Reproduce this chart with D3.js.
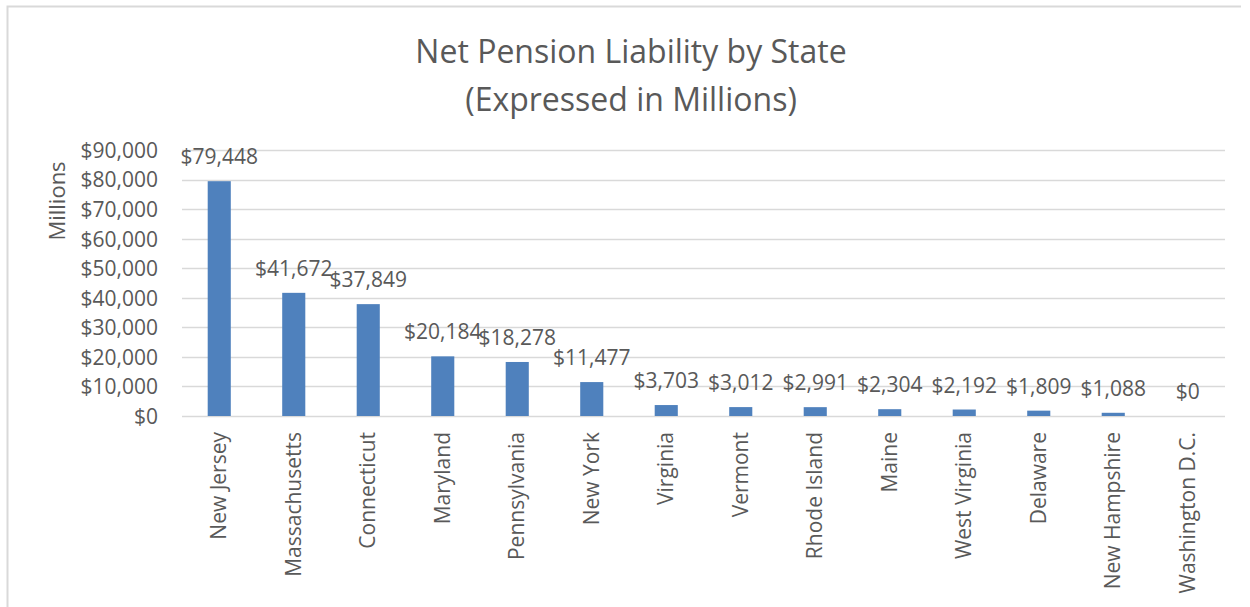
<!DOCTYPE html>
<html>
<head>
<meta charset="utf-8">
<script src="https://cdn.jsdelivr.net/npm/d3@7"></script>
<style>
  html, body { margin: 0; padding: 0; background: #fff; }
  svg { display: block; }
  text { font-family: "Open Sans", "Noto Sans", sans-serif; fill: #595959; }
</style>
</head>
<body>
<svg id="chart" width="1250" height="607"></svg>
<script>
const states = ["New Jersey", "Massachusetts", "Connecticut", "Maryland", "Pennsylvania", "New York",
  "Virginia", "Vermont", "Rhode Island", "Maine", "West Virginia", "Delaware", "New Hampshire", "Washington D.C."];
const liability = [79448, 41672, 37849, 20184, 18278, 11477, 3703, 3012, 2991, 2304, 2192, 1809, 1088, 0];
const yTicks = [0, 10000, 20000, 30000, 40000, 50000, 60000, 70000, 80000, 90000];
const titleLines = ["Net Pension Liability by State", "(Expressed in Millions)"];
const yAxisTitle = "Millions";

const svg = d3.select("#chart");

// chart border
svg.append("path")
  .attr("d", "M7.5,607 L7.5,6.5 L1241,6.5")
  .attr("fill", "none").attr("stroke", "#d9d9d9").attr("stroke-width", 2);

const plot = { left: 182, right: 1225, top: 150, bottom: 416 };

const x = d3.scaleBand().domain(states).range([plot.left, plot.right]).padding(0);
const y = d3.scaleLinear().domain([0, 90000]).range([plot.bottom, plot.top]);
const fmt = v => "$" + d3.format(",")(v);

// gridlines
svg.append("g").selectAll("line").data(yTicks).join("line")
  .attr("x1", plot.left).attr("x2", plot.right)
  .attr("y1", d => Math.round(y(d)) + 0.5).attr("y2", d => Math.round(y(d)) + 0.5)
  .attr("stroke", "#d9d9d9").attr("stroke-width", 1.5);

// y axis tick labels
const yAxis = d3.axisLeft(y).tickValues(yTicks).tickFormat(fmt).tickSize(0).tickPadding(24);
const gy = svg.append("g").attr("transform", `translate(${plot.left},0)`).call(yAxis);
gy.select(".domain").remove();
gy.selectAll("text").style("font-size", "21px").style("font-family", "'Open Sans', sans-serif")
  .attr("fill", "#595959").attr("dy", "0.35em");

// bars
const barW = x.bandwidth() * 0.31;
svg.append("g").selectAll("rect").data(states).join("rect")
  .attr("x", (d) => x(d) + x.bandwidth() / 2 - barW / 2)
  .attr("width", barW)
  .attr("y", (d, i) => y(liability[i]))
  .attr("height", (d, i) => y(0) - y(liability[i]))
  .attr("fill", "#4f81bd");

// data labels
svg.append("g").selectAll("text").data(states).join("text")
  .attr("x", d => x(d) + x.bandwidth() / 2)
  .attr("y", (d, i) => y(liability[i]) - 17)
  .attr("text-anchor", "middle")
  .style("font-size", "21px")
  .text((d, i) => fmt(liability[i]));

// x axis labels (rotated)
svg.append("g").selectAll("text").data(states).join("text")
  .attr("transform", d => `translate(${x(d) + x.bandwidth() / 2 + 7},432) rotate(-90)`)
  .attr("text-anchor", "end")
  .style("font-size", "21px")
  .text(d => d);

// y axis title
svg.append("text")
  .attr("transform", "translate(65,201) rotate(-90)")
  .attr("text-anchor", "middle")
  .style("font-size", "22px")
  .text(yAxisTitle);

// title
svg.append("g").selectAll("text").data(titleLines).join("text")
  .attr("x", 631)
  .attr("y", (d, i) => 63 + i * 48)
  .attr("text-anchor", "middle")
  .style("font-size", "32px")
  .text(d => d);
</script>
</body>
</html>
